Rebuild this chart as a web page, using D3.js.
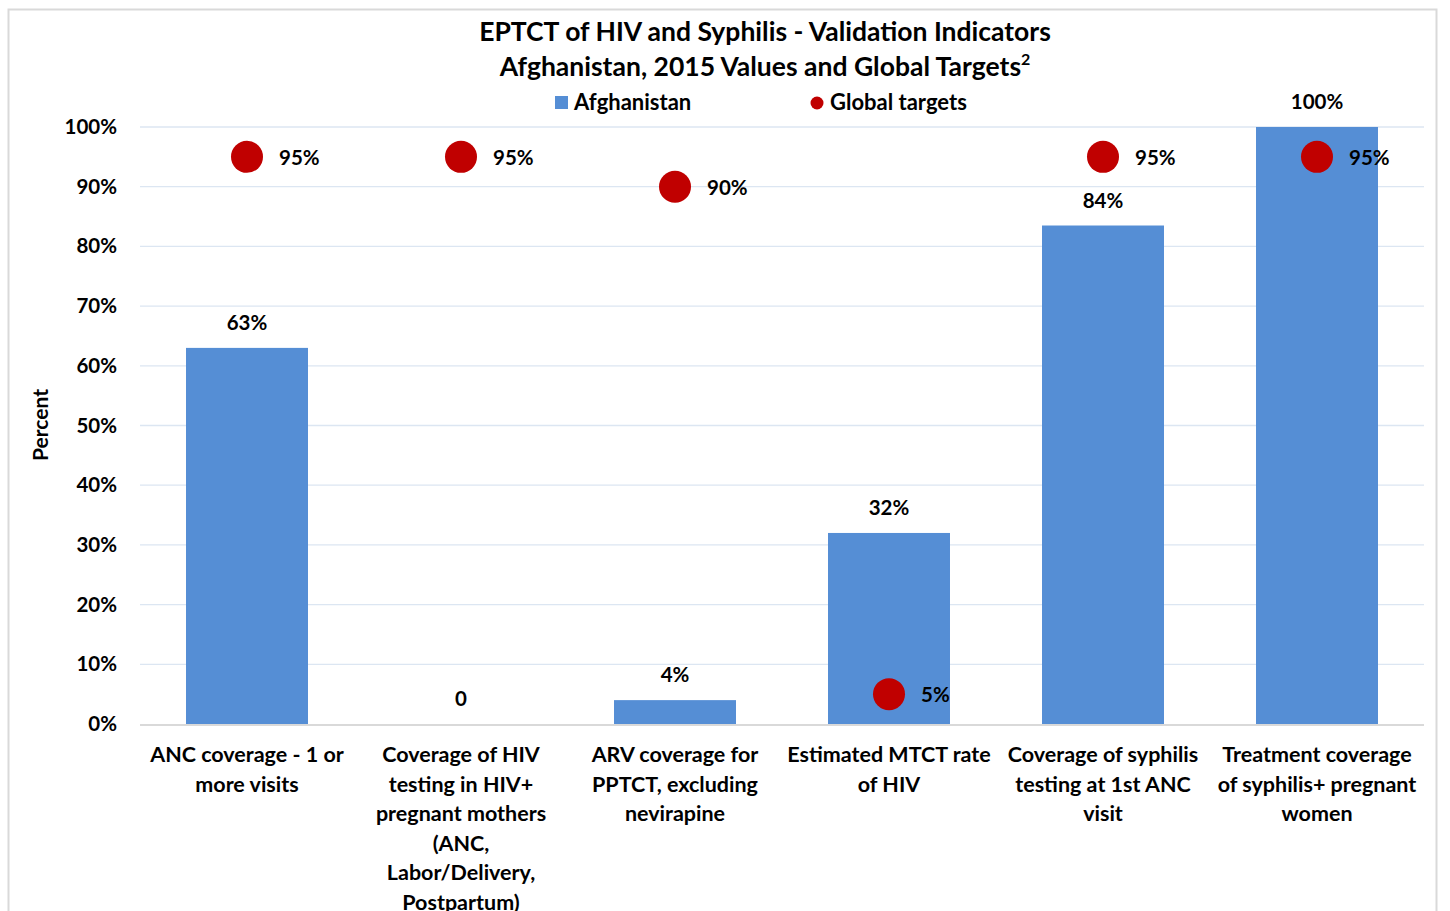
<!DOCTYPE html>
<html><head><meta charset="utf-8">
<script src="https://cdn.jsdelivr.net/npm/d3@7"></script>
<style>
body{margin:0;background:#fff;}
svg text{font-family:Lato,"Open Sans",sans-serif;font-weight:bold;fill:#000;}
</style></head>
<body>
<svg id="c" width="1450" height="911"></svg>
<script>
const categories = [
  ["ANC coverage - 1 or","more visits"],
  ["Coverage of HIV","testing in HIV+","pregnant mothers","(ANC,","Labor/Delivery,","Postpartum)"],
  ["ARV coverage for","PPTCT, excluding","nevirapine"],
  ["Estimated MTCT rate","of HIV"],
  ["Coverage of syphilis","testing at 1st ANC","visit"],
  ["Treatment coverage","of syphilis+ pregnant","women"]
];
const afghanistan = [63, 0, 4, 32, 83.5, 100];
const afghanistanLabels = ["63%","0","4%","32%","84%","100%"];
const globalTargets = [95, 95, 90, 5, 95, 95];
const yTicks = [0,10,20,30,40,50,60,70,80,90,100];

const svg = d3.select("#c");
const W = 1450, H = 911;
const m = {left:140, right:26, top:127, bottom:187};

svg.append("rect").attr("x",8.5).attr("y",9.5).attr("width",1428).attr("height",920)
  .attr("fill","#fff").attr("stroke","#d9d9d9").attr("stroke-width",2);

const x = d3.scaleBand().domain(d3.range(categories.length)).range([m.left, W-m.right]).paddingInner(0.43).paddingOuter(0.215);
const y = d3.scaleLinear().domain([0,100]).range([H-m.bottom, m.top]);

// gridlines
svg.append("g").selectAll("line").data(yTicks.filter(d=>d>0)).join("line")
  .attr("x1",m.left).attr("x2",W-m.right)
  .attr("y1",d=>y(d)).attr("y2",d=>y(d))
  .attr("stroke","#dce6f2").attr("stroke-width",1.3);

// y axis labels
const yAxis = d3.axisLeft(y).tickValues(yTicks).tickFormat(d=>d+"%").tickSize(0).tickPadding(23);
const ya = svg.append("g").attr("transform",`translate(${m.left},0)`).call(yAxis);
ya.select(".domain").remove();
ya.selectAll("text").attr("font-size",20.5).style("font-family","Lato,sans-serif").style("font-weight","bold").attr("fill","#000");

// bars
svg.append("g").selectAll("rect").data(afghanistan).join("rect")
  .attr("x",(d,i)=>x(i)).attr("width",x.bandwidth())
  .attr("y",d=>y(d)).attr("height",d=>y(0)-y(d))
  .attr("fill","#558ed5");

// x axis line
svg.append("line").attr("x1",m.left).attr("x2",W-m.right).attr("y1",y(0)+1).attr("y2",y(0)+1)
  .attr("stroke","#d9d9d9").attr("stroke-width",2);

// bar labels
svg.append("g").selectAll("text").data(afghanistan).join("text")
  .attr("x",(d,i)=>x(i)+x.bandwidth()/2).attr("y",d=>y(d)-18)
  .attr("text-anchor","middle").attr("font-size",20.5)
  .text((d,i)=>afghanistanLabels[i]);

// target dots
svg.append("g").selectAll("circle").data(globalTargets).join("circle")
  .attr("cx",(d,i)=>x(i)+x.bandwidth()/2).attr("cy",d=>y(d))
  .attr("r",16).attr("fill","#c00000");
svg.append("g").selectAll("text").data(globalTargets).join("text")
  .attr("x",(d,i)=>x(i)+x.bandwidth()/2+32).attr("y",d=>y(d)+8)
  .attr("font-size",20.5).text(d=>d+"%");

// x labels
const xl = svg.append("g").selectAll("text").data(categories).join("text")
  .attr("x",(d,i)=>x(i)+x.bandwidth()/2).attr("y",762)
  .attr("text-anchor","middle").attr("font-size",21.5);
xl.selectAll("tspan").data(d=>d).join("tspan")
  .attr("x",function(){return this.parentNode.getAttribute("x");})
  .attr("dy",(d,j)=>j===0?0:29.5).text(d=>d);

// y title
svg.append("text").attr("transform","translate(48,425) rotate(-90)")
  .attr("text-anchor","middle").attr("font-size",21).text("Percent");

// title
svg.append("text").attr("x",765).attr("y",41).attr("text-anchor","middle").attr("font-size",26.5)
  .text("EPTCT of HIV and Syphilis - Validation Indicators");
const t2 = svg.append("text").attr("x",765).attr("y",76).attr("text-anchor","middle").attr("font-size",26.5);
t2.append("tspan").text("Afghanistan, 2015 Values and Global Targets");
t2.append("tspan").attr("font-size",16).attr("dy",-11).text("2");

// legend
svg.append("rect").attr("x",555).attr("y",96).attr("width",13).attr("height",13).attr("fill","#558ed5");
svg.append("text").attr("x",574).attr("y",110).attr("font-size",22).text("Afghanistan");
svg.append("circle").attr("cx",817).attr("cy",103).attr("r",6.5).attr("fill","#c00000");
svg.append("text").attr("x",830).attr("y",110).attr("font-size",22).text("Global targets");
</script>
</body></html>
